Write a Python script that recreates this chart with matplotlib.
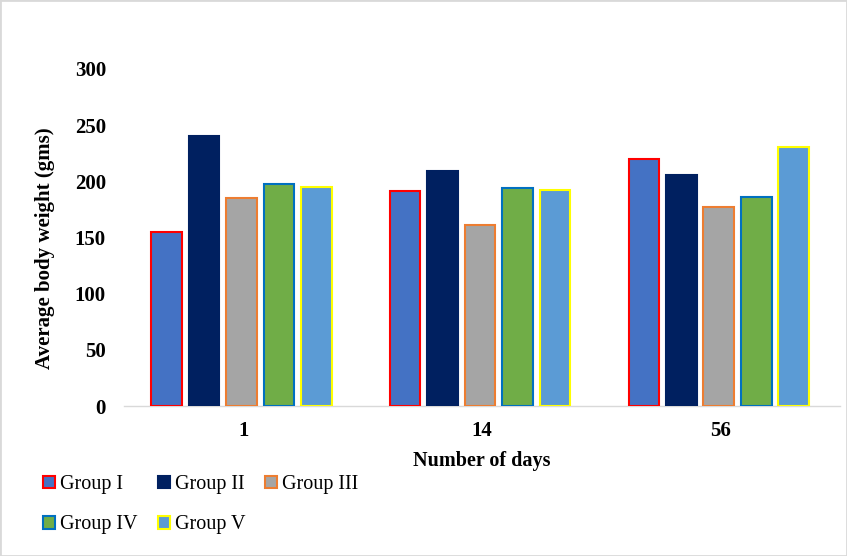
import matplotlib.pyplot as plt
import numpy as np
from matplotlib.patches import Rectangle

plt.rcParams['font.family'] = ['Liberation Serif', 'DejaVu Serif']

days = ['1', '14', '56']
groups = ['Group I', 'Group II', 'Group III', 'Group IV', 'Group V']
group_i = [155, 191, 220]
group_ii = [240, 209, 206]
group_iii = [185, 161, 177]
group_iv = [198, 194, 186]
group_v = [195, 192, 231]
yticks = [0, 50, 100, 150, 200, 250, 300]

series = [group_i, group_ii, group_iii, group_iv, group_v]
fills = ['#4472C4', '#002060', '#A5A5A5', '#70AD47', '#5B9BD5']
edges = ['#FF0000', '#002060', '#ED7D31', '#0070C0', '#FFFF00']

fig = plt.figure(figsize=(8.47, 5.56), dpi=100)
ax = fig.add_axes([124/847, (556-406)/556, (840-124)/847, (406-69)/556])

x = np.arange(len(days))
step = 0.157
width = 0.128
handles = []
for i, (vals, fc, ec) in enumerate(zip(series, fills, edges)):
    b = ax.bar(x + (i - 2) * step - 0.008, vals, width, color=fc, edgecolor=ec,
               linewidth=1.5, label=groups[i], zorder=3)
    handles.append(b)

ax.set_xlim(-0.5, 2.5)
ax.set_ylim(0, 300)
ax.set_yticks(yticks)
ax.set_xticks(x)
ax.set_xticklabels(days)
for s in ['top', 'right', 'left']:
    ax.spines[s].set_visible(False)
ax.spines['bottom'].set_color('#D9D9D9')
ax.spines['bottom'].set_linewidth(1)
ax.tick_params(axis='both', length=0, labelsize=15)
ax.tick_params(axis='x', pad=11)
ax.tick_params(axis='y', pad=13)
for lab in ax.get_xticklabels() + ax.get_yticklabels():
    lab.set_fontweight('bold')

ax.set_ylabel('Average body weight (gms)', fontsize=15, fontweight='bold')
ax.yaxis.set_label_coords(-0.097, 0.468)
ax.set_xlabel('Number of days', fontsize=14.5, fontweight='bold', labelpad=7)

order = [0, 3, 1, 4, 2]
fig.legend([handles[k] for k in order], [groups[k] for k in order],
           ncol=3, frameon=False, loc='upper left', bbox_to_anchor=(0.041, 0.16),
           fontsize=14.5, handlelength=0.6, handleheight=0.6, handletextpad=0.25,
           columnspacing=1.0, labelspacing=1.05, borderaxespad=0)

fig.patches.append(Rectangle((0, 0), 1, 1, transform=fig.transFigure, fill=False,
                             edgecolor='#D9D9D9', linewidth=2))

fig.savefig('out.png', dpi=100)
